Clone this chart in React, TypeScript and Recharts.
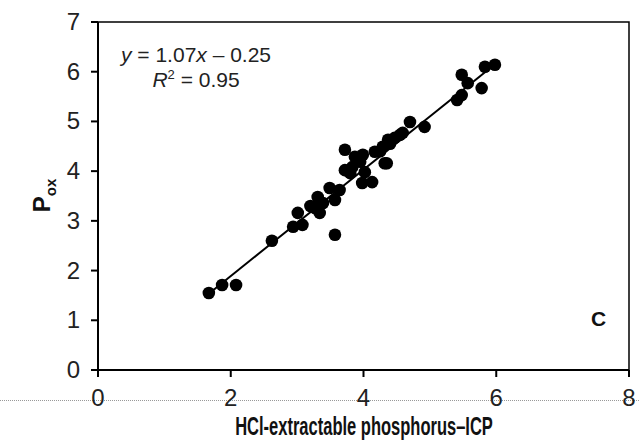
import { ScatterChart, Scatter, XAxis, YAxis, ReferenceArea } from 'recharts';

const xVals = [1.67, 1.87, 2.08, 2.62, 2.94, 3.01, 3.08, 3.57, 3.27, 3.31, 3.34, 3.39, 3.49, 3.57, 3.64,
  3.72, 3.83, 3.80, 3.98, 4.13, 4.02, 3.95, 4.35, 3.72, 3.87, 3.99, 4.17, 4.29, 4.32, 4.37,
  4.47, 4.55, 4.59, 4.70, 4.92, 5.41, 5.48, 5.48, 5.57, 5.78, 5.83, 5.98, 3.20, 4.25, 4.40];
const yVals = [1.55, 1.71, 1.71, 2.60, 2.88, 3.16, 2.92, 2.72, 3.26, 3.48, 3.16, 3.36, 3.66, 3.42, 3.62,
  4.02, 4.08, 3.96, 3.76, 3.78, 3.98, 4.19, 4.16, 4.43, 4.29, 4.33, 4.39, 4.49, 4.16, 4.63,
  4.67, 4.73, 4.77, 4.99, 4.89, 5.43, 5.53, 5.94, 5.77, 5.67, 6.10, 6.14, 3.30, 4.40, 4.55];

const slope = 1.07;
const intercept = -0.25;
const fitRange = [1.65, 6.0];

const xTicks = [0, 2, 4, 6, 8];
const yTicks = [0, 1, 2, 3, 4, 5, 6, 7];

const points = xVals.map((x, i) => ({ x, y: yVals[i] }));
const fitLine = fitRange.map(x => ({ x, y: slope * x + intercept }));

const FONT = 'Liberation Sans, Arial, sans-serif';

const XTick = (p: any) => (
  <text x={p.x} y={p.y} dy={27} textAnchor="middle" fontFamily={FONT} fontSize={24} fill="#222">{p.payload.value}</text>
);
const YTick = (p: any) => (
  <text x={p.x} y={p.y} dy={8} textAnchor="end" fontFamily={FONT} fontSize={24} fill="#222">{p.payload.value}</text>
);
const Dot = (p: any) => <circle cx={p.cx} cy={p.cy} r={6.3} fill="#000" />;

export default function App() {
  return (
    <div style={{ position: 'absolute', left: 0, top: 0, width: 639, height: 444, background: '#fff' }}>
      <div style={{ position: 'absolute', left: 0, top: 400, width: 639, borderTop: '1px dotted #999' }} />
      <ScatterChart width={639} height={444} margin={{ top: 22, right: 10, left: 38, bottom: 34 }}>
        <XAxis type="number" dataKey="x" domain={[0, 8]} ticks={xTicks} tick={XTick}
          axisLine={{ stroke: '#000', strokeWidth: 2 }} tickLine={{ stroke: '#000', strokeWidth: 2 }}
          tickSize={7} tickMargin={2} height={40} />
        <YAxis type="number" dataKey="y" domain={[0, 7]} ticks={yTicks} tick={YTick} width={60}
          axisLine={{ stroke: '#000', strokeWidth: 2 }} tickLine={{ stroke: '#000', strokeWidth: 2 }}
          tickSize={7} tickMargin={11} />
        <ReferenceArea x1={0} x2={8} y1={0} y2={7} fill="none" stroke="#000" strokeWidth={1.5} />
        <Scatter data={fitLine} line={{ stroke: '#000', strokeWidth: 2 }} shape={() => null} isAnimationActive={false} />
        <Scatter data={points} fill="#000" shape={Dot} isAnimationActive={false} />
      </ScatterChart>
      <div style={{ position: 'absolute', left: 364, top: 412, transform: 'translateX(-50%) scaleX(0.66)', whiteSpace: 'nowrap', fontFamily: FONT, fontWeight: 'bold', fontSize: 25, color: '#111' }}>
        HCl-extractable phosphorus–ICP
      </div>
      <div style={{ position: 'absolute', left: 27, top: 180, transform: 'rotate(-90deg)', fontFamily: FONT, fontWeight: 'bold', fontSize: 24, color: '#111' }}>
        P<sub style={{ fontSize: 15 }}>ox</sub>
      </div>
      <div style={{ position: 'absolute', left: 121, top: 42, fontFamily: FONT, fontSize: 21, color: '#222', lineHeight: '25px', textAlign: 'center' }}>
        <div><i>y</i> = 1.07<i>x</i> – 0.25</div>
        <div><i>R</i><sup style={{ fontSize: 13, lineHeight: 0 }}>2</sup> = 0.95</div>
      </div>
      <div style={{ position: 'absolute', left: 591, top: 307, fontFamily: FONT, fontWeight: 'bold', fontSize: 21, color: '#111' }}>C</div>
    </div>
  );
}
